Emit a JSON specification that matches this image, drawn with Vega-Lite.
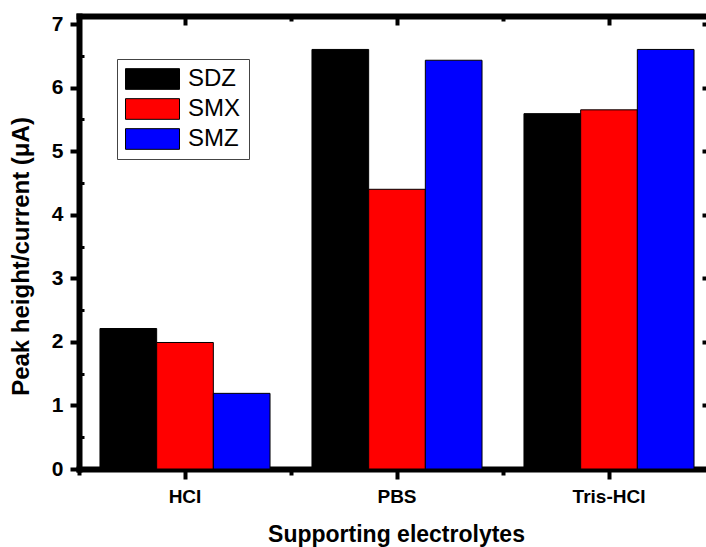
{
  "$schema": "https://vega.github.io/schema/vega-lite/v6.json",
  "autosize": {"type": "none"},
  "width": 627,
  "height": 453,
  "padding": {"left": 79, "top": 16, "right": 0, "bottom": 78},
  "background": "white",
  "config": {
    "view": {"stroke": null},
    "font": "Liberation Sans",
    "axis": {"grid": false, "labelFont": "Liberation Sans", "titleFont": "Liberation Sans", "labelColor": "black", "titleColor": "black", "tickColor": "black", "domainColor": "black", "domainWidth": 6}
  },
  "data": {
    "values": [
      {"electrolyte": "HCl", "drug": "SDZ", "current": 2.21},
      {"electrolyte": "HCl", "drug": "SMX", "current": 1.99},
      {"electrolyte": "HCl", "drug": "SMZ", "current": 1.19},
      {"electrolyte": "PBS", "drug": "SDZ", "current": 6.6},
      {"electrolyte": "PBS", "drug": "SMX", "current": 4.4},
      {"electrolyte": "PBS", "drug": "SMZ", "current": 6.43},
      {"electrolyte": "Tris-HCl", "drug": "SDZ", "current": 5.59},
      {"electrolyte": "Tris-HCl", "drug": "SMX", "current": 5.65},
      {"electrolyte": "Tris-HCl", "drug": "SMZ", "current": 6.6}
    ]
  },
  "resolve": {"axis": {"x": "independent", "y": "independent"}},
  "layer": [
    {
      "mark": {"type": "bar", "stroke": "black", "strokeWidth": 1},
      "encoding": {
        "x": {
          "field": "electrolyte", "type": "nominal", "sort": ["HCl", "PBS", "Tris-HCl"],
          "scale": {"range": [0, 636], "paddingInner": 0, "paddingOuter": 0},
          "axis": {
            "orient": "bottom", "title": "Supporting electrolytes", "labelAngle": 0,
            "labelExpr": "datum.label == 'HCl' ? 'HCI' : datum.label == 'Tris-HCl' ? 'Tris-HCI' : datum.label",
            "bandPosition": 0.5, "domainWidth": 6, "domainCap": "square", "tickSize": 10, "tickWidth": 4,
            "labelFontSize": 19, "labelFontWeight": "bold", "labelPadding": 8,
            "titleFontSize": 23, "titleFontWeight": "bold", "titleBaseline": "alphabetic", "titleY": 72.5, "titleX": 317, "titleAlign": "center"
          }
        },
        "y": {
          "field": "current", "type": "quantitative",
          "scale": {"domain": [0, 7.126], "nice": false, "zero": true},
          "axis": {
            "orient": "left", "title": "Peak height/current (μA)", "values": [0, 1, 2, 3, 4, 5, 6, 7],
            "domainWidth": 6, "domainCap": "square", "tickSize": 9, "tickWidth": 4,
            "labelFontSize": 21, "labelFontWeight": "bold", "labelPadding": 7, "format": "d",
            "titleFontSize": 24, "titleFontWeight": "bold", "titleAngle": 270, "titleAlign": "center",
            "titleBaseline": "alphabetic", "titleX": -51, "titleY": 240
          }
        },
        "xOffset": {
          "field": "drug", "type": "nominal", "sort": ["SDZ", "SMX", "SMZ"],
          "scale": {"paddingInner": 0, "paddingOuter": 0.37}
        },
        "color": {
          "field": "drug", "type": "nominal", "sort": ["SDZ", "SMX", "SMZ"],
          "scale": {"domain": ["SDZ", "SMX", "SMZ"], "range": ["#000000", "#ff0000", "#0000ff"]},
          "legend": {
            "title": null, "orient": "none", "legendX": 38, "legendY": 43,
            "padding": 8, "strokeColor": "#444444", "fillColor": "white",
            "labelFontSize": 24, "labelFont": "Liberation Sans", "labelColor": "black", "labelOffset": 8,
            "rowPadding": 6, "clipHeight": 24,
            "symbolType": "M-1,-0.383H1V0.383H-1Z", "symbolSize": 2916,
            "symbolStrokeColor": "black", "symbolStrokeWidth": 1, "symbolOpacity": 1
          }
        }
      }
    },
    {
      "mark": {"type": "bar", "opacity": 0},
      "encoding": {
        "x": {
          "field": "electrolyte", "type": "nominal", "sort": ["HCl", "PBS", "Tris-HCl"],
          "axis": {"orient": "top", "title": null, "labels": false, "bandPosition": 0.5, "domainWidth": 6, "domainCap": "square", "tickSize": -9, "tickWidth": 4}
        },
        "y": {
          "field": "current", "type": "quantitative",
          "axis": {"orient": "right", "title": null, "labels": false, "domain": false, "values": [0, 1, 2, 3, 4, 5, 6, 7], "tickSize": -4, "tickWidth": 4}
        }
      }
    },
    {
      "mark": {"type": "bar", "opacity": 0},
      "encoding": {
        "x": {
          "field": "electrolyte", "type": "nominal", "sort": ["HCl", "PBS", "Tris-HCl"],
          "axis": {"orient": "bottom", "title": null, "labels": false, "domain": false, "bandPosition": 0, "tickSize": 6, "tickWidth": 4}
        },
        "y": {
          "field": "current", "type": "quantitative",
          "axis": {"orient": "left", "title": null, "labels": false, "domain": false, "values": [0.5, 1.5, 2.5, 3.5, 4.5, 5.5, 6.5], "tickSize": -5, "tickWidth": 3}
        }
      }
    },
    {
      "mark": {"type": "bar", "opacity": 0},
      "encoding": {
        "x": {
          "field": "electrolyte", "type": "nominal", "sort": ["HCl", "PBS", "Tris-HCl"],
          "axis": {"orient": "top", "title": null, "labels": false, "domain": false, "bandPosition": 0, "tickSize": -5, "tickWidth": 4}
        },
        "y": {
          "field": "current", "type": "quantitative",
          "axis": null
        }
      }
    }
  ]
}
